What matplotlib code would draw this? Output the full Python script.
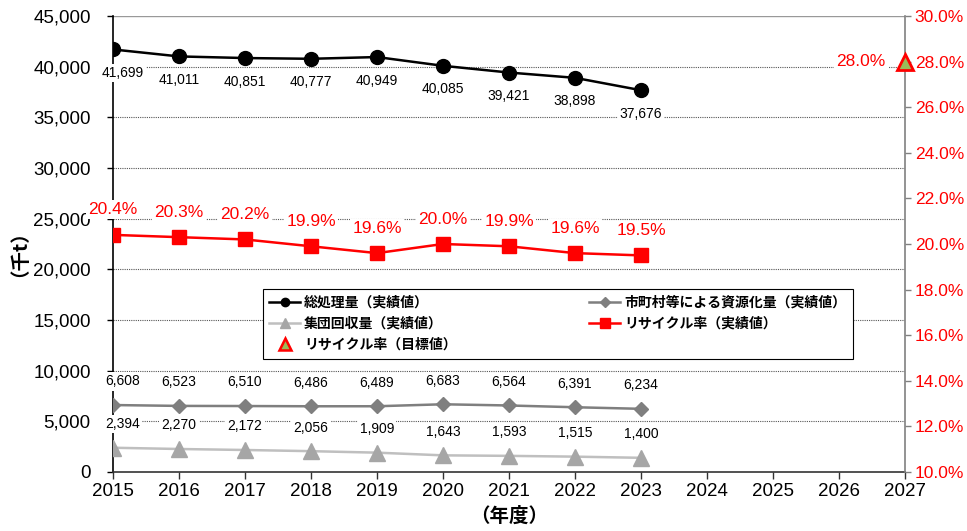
import matplotlib
matplotlib.use("Agg")
import matplotlib.pyplot as plt
from matplotlib.lines import Line2D
from matplotlib.ticker import FuncFormatter, MultipleLocator

plt.rcParams['font.family'] = ['Noto Sans CJK JP', 'DejaVu Sans']
NARROW = ['Liberation Sans', 'DejaVu Sans']

years = [2015, 2016, 2017, 2018, 2019, 2020, 2021, 2022, 2023]
total = [41699, 41011, 40851, 40777, 40949, 40085, 39421, 38898, 37676]
resource = [6608, 6523, 6510, 6486, 6489, 6683, 6564, 6391, 6234]
group = [2394, 2270, 2172, 2056, 1909, 1643, 1593, 1515, 1400]
rate = [20.4, 20.3, 20.2, 19.9, 19.6, 20.0, 19.9, 19.6, 19.5]
target_year = [2027]
target_rate = [28.0]
xticks = list(range(2015, 2028))

labels = ['総処理量（実績値）', '市町村等による資源化量（実績値）', '集団回収量（実績値）',
          'リサイクル率（実績値）', 'リサイクル率（目標値）']

fig = plt.figure(figsize=(9.67, 5.31), dpi=100)
ax = fig.add_axes([113/967, 1-472/531, 792/967, 456/531])
ax2 = ax.twinx()

ax.set_xlim(2015, 2027)
ax.set_ylim(0, 45000)
ax2.set_ylim(10, 30)

ax.yaxis.set_major_locator(MultipleLocator(5000))
ax.yaxis.set_major_formatter(FuncFormatter(lambda v, p: f"{int(v):,}"))
ax2.yaxis.set_major_locator(MultipleLocator(2))
ax2.yaxis.set_major_formatter(FuncFormatter(lambda v, p: f"{v:.1f}%"))
ax.set_xticks(xticks)

for g in range(5000, 45000, 5000):
    ax.axhline(g, color='#555555', lw=0.8, ls=(0, (1, 1)), zorder=0)
ax.axhline(45000, color='#999999', lw=1, zorder=0)

ax.spines['top'].set_visible(False)
ax2.spines['top'].set_visible(False)
ax.spines['left'].set_color('black')
ax.spines['left'].set_linewidth(1.2)
ax.spines['bottom'].set_color('#333333')
ax.spines['bottom'].set_linewidth(1.2)
ax2.spines['right'].set_color('#808080')
ax2.spines['right'].set_linewidth(1.2)
ax2.spines['left'].set_visible(False)
ax2.spines['bottom'].set_visible(False)
ax.spines['right'].set_visible(False)

ax.tick_params(axis='y', length=4, colors='black', width=1, pad=12)
ax.tick_params(axis='x', length=5, width=1, color='#333333', pad=3)
ax2.tick_params(axis='y', length=4, colors='#808080', labelcolor='red', width=1, pad=3)
for t in ax.get_xticklabels() + ax.get_yticklabels():
    t.set_family(NARROW)
    t.set_fontsize(13.5)
for t in ax2.get_yticklabels():
    t.set_family(NARROW)
    t.set_fontsize(12.5)

ax.plot(years, total, color='black', lw=1.8, marker='o', ms=10, zorder=5)
ax.plot(years, resource, color='#7F7F7F', lw=1.8, marker='D', ms=7, zorder=5)
ax.plot(years, group, color='#BFBFBF', lw=1.8, marker='^', ms=11,
        mfc='#A6A6A6', mec='#A6A6A6', zorder=5)
ax2.plot(years, rate, color='red', lw=1.8, marker='s', ms=10, zorder=5)
ax2.plot(target_year, target_rate, ls='none', marker='^', ms=12,
         mfc='#9BBB59', mec='red', mew=2, zorder=6, clip_on=False)

bb = dict(facecolor='white', edgecolor='none', pad=1.5)
for i, (x, v) in enumerate(zip(years, total)):
    dx = 7 if i == 0 else 0
    ax.annotate(f"{v:,}", (x, v), xytext=(dx, -17), textcoords='offset points',
                ha='center', va='center', fontsize=10, family=NARROW, bbox=bb, zorder=4)
for i, (x, v) in enumerate(zip(years, resource)):
    dx = 7 if i == 0 else 0
    ax.annotate(f"{v:,}", (x, v), xytext=(dx, 17), textcoords='offset points',
                ha='center', va='center', fontsize=10, family=NARROW, bbox=bb, zorder=4)
for i, (x, v) in enumerate(zip(years, group)):
    dx = 7 if i == 0 else 0
    ax.annotate(f"{v:,}", (x, v), xytext=(dx, 17), textcoords='offset points',
                ha='center', va='center', fontsize=10, family=NARROW, bbox=bb, zorder=4)
for x, v in zip(years, rate):
    ax2.annotate(f"{v:.1f}%", (x, v), xytext=(0, 18), textcoords='offset points',
                 ha='center', va='center', fontsize=12.5, family=NARROW, color='red',
                 bbox=bb, zorder=4)
for x, v in zip(target_year, target_rate):
    ax2.annotate(f"{v:.1f}%", (x, v), xytext=(-14, 0), textcoords='offset points',
                 ha='right', va='center', fontsize=12.5, family=NARROW, color='red',
                 bbox=bb, zorder=4)

ax.set_ylabel('（千t）', fontsize=14, fontweight='bold', labelpad=10)
ax.set_xlabel('（年度）', fontsize=14, fontweight='bold', labelpad=5)

h_total = Line2D([], [], color='black', lw=1.8, marker='o', ms=6)
h_res = Line2D([], [], color='#7F7F7F', lw=1.8, marker='D', ms=5)
h_grp = Line2D([], [], color='#BFBFBF', lw=1.8, marker='^', ms=7, mfc='#A6A6A6', mec='#A6A6A6')
h_rate = Line2D([], [], color='red', lw=1.8, marker='s', ms=7)
h_tgt = Line2D([], [], ls='none', marker='^', ms=8, mfc='#9BBB59', mec='red', mew=1.8)
leg = ax2.legend([h_total, h_grp, h_tgt, h_res, h_rate],
                 [labels[0], labels[2], labels[4], labels[1], labels[3]],
                 ncol=2, loc='upper left', bbox_to_anchor=(0.18, 0.257, 0.763, 0.16),
                 mode='expand', frameon=True, fancybox=False, framealpha=1,
                 edgecolor='black', fontsize=10, handlelength=2.2, borderpad=0.5,
                 labelspacing=0.5, handletextpad=0.3)
leg.get_frame().set_linewidth(0.8)
for t in leg.get_texts():
    t.set_fontweight('bold')
leg.set_zorder(10)

fig.savefig('out.png', dpi=100)
